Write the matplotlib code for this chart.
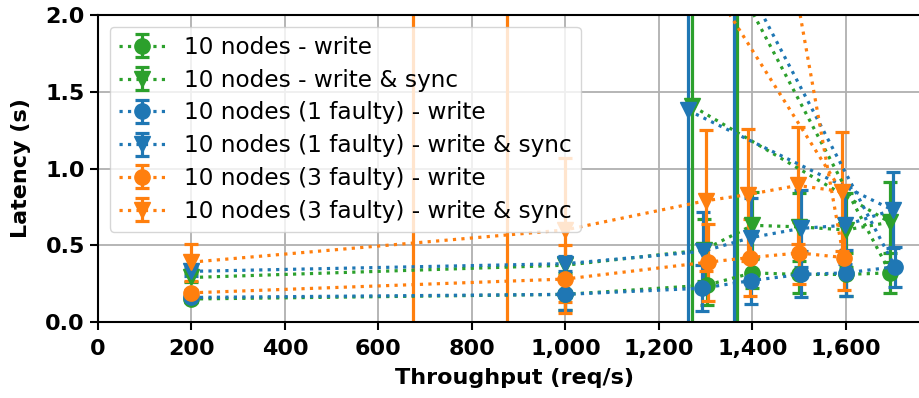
import matplotlib
matplotlib.use("Agg")
import matplotlib.pyplot as plt
from matplotlib.ticker import FuncFormatter, MultipleLocator

# throughput (req/s), latency (s) and std for each run
gw_x = [200, 1000, 1302, 1400, 1500, 1600, 1695, 1367]
gw_y = [0.15, 0.18, 0.24, 0.32, 0.31, 0.31, 0.32, 2.21]
gw_e = [0.02, 0.10, 0.13, 0.10, 0.12, 0.14, 0.13, 2.60]

gws_x = [200, 1000, 1296, 1400, 1500, 1600, 1694, 1270]
gws_y = [0.29, 0.37, 0.47, 0.63, 0.62, 0.60, 0.65, 1.41]
gws_e = [0.03, 0.05, 0.20, 0.22, 0.22, 0.24, 0.26, 2.20]

bw_x = [200, 1000, 1293, 1397, 1504, 1600, 1705, 1360]
bw_y = [0.16, 0.18, 0.22, 0.27, 0.31, 0.32, 0.36, 2.36]
bw_e = [0.02, 0.10, 0.15, 0.15, 0.15, 0.15, 0.13, 2.70]

bws_x = [200, 1000, 1294, 1397, 1504, 1598, 1700, 1262]
bws_y = [0.33, 0.38, 0.46, 0.55, 0.61, 0.63, 0.73, 1.38]
bws_e = [0.03, 0.05, 0.26, 0.26, 0.25, 0.25, 0.25, 2.20]

ow_x = [200, 1000, 1305, 1395, 1500, 1595, 674]
ow_y = [0.19, 0.28, 0.39, 0.42, 0.45, 0.42, 16.1]
ow_e = [0.02, 0.22, 0.25, 0.25, 0.20, 0.21, 17.0]

ows_x = [200, 1000, 1300, 1390, 1497, 1591, 875]
ows_y = [0.39, 0.60, 0.79, 0.83, 0.89, 0.85, 4.3]
ows_e = [0.12, 0.47, 0.46, 0.43, 0.38, 0.39, 5.0]

series = [
    (gw_x, gw_y, gw_e, 'o', '#2ca02c', '10 nodes - write'),
    (gws_x, gws_y, gws_e, 'v', '#2ca02c', '10 nodes - write & sync'),
    (bw_x, bw_y, bw_e, 'o', '#1f77b4', '10 nodes (1 faulty) - write'),
    (bws_x, bws_y, bws_e, 'v', '#1f77b4', '10 nodes (1 faulty) - write & sync'),
    (ow_x, ow_y, ow_e, 'o', '#ff7f0e', '10 nodes (3 faulty) - write'),
    (ows_x, ows_y, ows_e, 'v', '#ff7f0e', '10 nodes (3 faulty) - write & sync'),
]

fig = plt.figure(figsize=(9.2, 3.98), dpi=100)
ax = fig.add_axes([0.1065, 0.191, 0.9044, 0.771])

for x, y, e, m, c, label in series:
    ax.errorbar(x, y, yerr=e, fmt=':', marker=m, color=c, lw=2.3, ms=11,
                capsize=5, capthick=2.3, label=label)

ax.set_xlim(0, 1780)
ax.set_ylim(0, 2)
ax.set_yticks([0, 0.5, 1.0, 1.5, 2.0])
ax.xaxis.set_major_locator(MultipleLocator(200))
ax.xaxis.set_major_formatter(FuncFormatter(lambda v, p: f'{int(v):,}'))
ax.grid(True, color='#b0b0b0', lw=1.3)
ax.set_axisbelow(True)

for s in ax.spines.values():
    s.set_linewidth(1.5)
ax.tick_params(width=1.5, length=6, labelsize=16)
ax.tick_params(axis='x', pad=6)
for lab in ax.get_xticklabels() + ax.get_yticklabels():
    lab.set_fontweight('bold')

ax.set_xlabel('Throughput (req/s)', fontsize=16, fontweight='bold', labelpad=7)
ax.set_ylabel('Latency (s)', fontsize=16, fontweight='bold', labelpad=10)
ax.legend(loc='upper left', fontsize=16.7, labelspacing=0.42)

fig.savefig('out.png', dpi=100)
